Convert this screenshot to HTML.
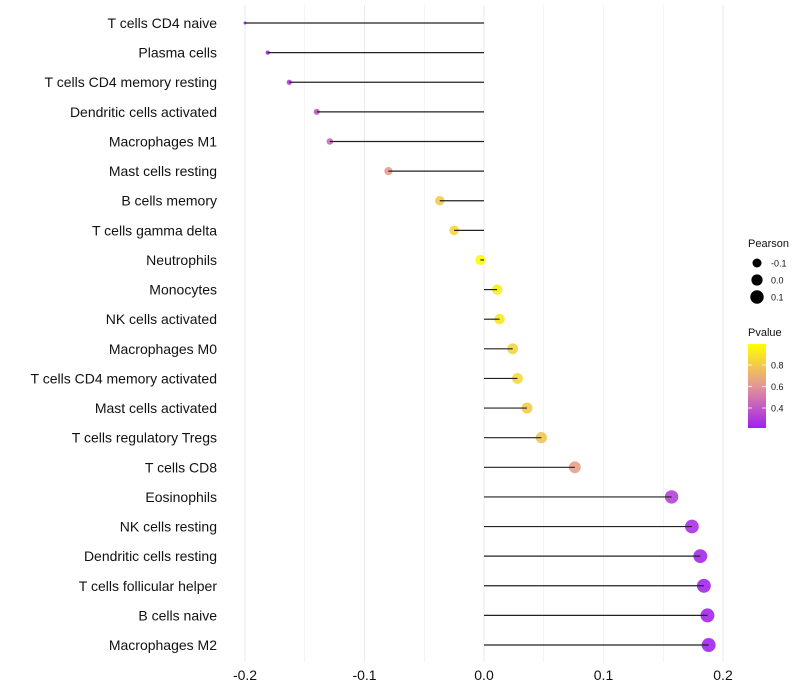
<!DOCTYPE html>
<html><head><meta charset="utf-8"><style>
body{margin:0;background:#fff;font-family:"Liberation Sans",sans-serif;}
svg{display:block}
</style></head><body>
<svg id="chart" width="800" height="700"></svg>
<script>
const categories=["T cells CD4 naive","Plasma cells","T cells CD4 memory resting","Dendritic cells activated","Macrophages M1","Mast cells resting","B cells memory","T cells gamma delta","Neutrophils","Monocytes","NK cells activated","Macrophages M0","T cells CD4 memory activated","Mast cells activated","T cells regulatory  Tregs ","T cells CD8","Eosinophils","NK cells resting","Dendritic cells resting","T cells follicular helper","B cells naive","Macrophages M2"];
const pearson=[-0.200,-0.181,-0.163,-0.140,-0.129,-0.080,-0.037,-0.025,-0.003,0.011,0.013,0.024,0.028,0.036,0.048,0.076,0.157,0.174,0.181,0.184,0.187,0.188];
const pvalue=[0.21,0.24,0.30,0.40,0.45,0.62,0.80,0.85,0.99,0.93,0.91,0.84,0.86,0.80,0.78,0.64,0.32,0.26,0.23,0.22,0.22,0.21];
const xTicks=[-0.2,-0.1,0.0,0.1,0.2];
const xTickLabels=["-0.2","-0.1","0.0","0.1","0.2"];
const sizeLegend=[-0.1,0.0,0.1];
const sizeLegendLabels=["-0.1","0.0","0.1"];
const pLegend=[0.8,0.6,0.4];

const NS="http://www.w3.org/2000/svg";
const svg=document.getElementById('chart');
function el(t,a,p){const e=document.createElementNS(NS,t);for(const k in a)e.setAttribute(k,a[k]);(p||svg).appendChild(e);return e;}
const X=v=>484+v*1195;
const Y=i=>23+i*29.62;
const R=v=>Math.sqrt(2.25+120*Math.max(0,v+0.2));
function lerp(a,b,t){return a.map((x,i)=>Math.round(x+(b[i]-x)*t));}
function col(p){const stops=[[0.2,[160,32,240]],[0.6,[228,150,150]],[1.0,[255,255,0]]];
 if(p<=0.2)return 'rgb(160,32,240)';
 for(let i=0;i<stops.length-1;i++){if(p<=stops[i+1][0]){const t=(p-stops[i][0])/(stops[i+1][0]-stops[i][0]);return 'rgb('+lerp(stops[i][1],stops[i+1][1],t).join(',')+')';}}
 return 'rgb(255,255,0)';}

for(let v=-0.2;v<=0.2001;v+=0.05){
 const g=el('line',{x1:X(v),x2:X(v),y1:5,y2:662,stroke:'#ebebeb','stroke-width':Math.abs((v*20)%2)<0.01?1:0.6});
 
 
}
xTicks.forEach((v,i)=>{
 const t=el('text',{x:X(v),y:680,'text-anchor':'middle','font-size':14,fill:'#111'});
 t.textContent=xTickLabels[i];
 
 
});
categories.forEach((c,i)=>{
 const t=el('text',{x:217,y:Y(i)+5,'text-anchor':'end','font-size':14,fill:'#111'});
 t.textContent=c;
 
 
 const pt=el('circle',{cx:X(pearson[i]),cy:Y(i),r:R(pearson[i]),fill:col(pvalue[i]),'fill-opacity':0.9});
 
 
 const ln=el('line',{x1:X(0),x2:X(pearson[i]),y1:Y(i),y2:Y(i),stroke:'#222','stroke-width':1.2});
 
 
});
let t=el('text',{x:748,y:247,'font-size':11,fill:'#111'});t.textContent='Pearson';


sizeLegend.forEach((v,i)=>{
 const cy=263+i*17;
 const c=el('circle',{cx:757,cy:cy,r:4.5+i*1.1,fill:'#000'});
 
 
 const l=el('text',{x:771,y:cy+3.5,'font-size':9,fill:'#111'});l.textContent=sizeLegendLabels[i];
 
 
});
t=el('text',{x:748,y:336,'font-size':11,fill:'#111'});t.textContent='Pvalue';


const defs=el('defs',{});
const gr=el('linearGradient',{id:'pg',x1:0,y1:1,x2:0,y2:0},defs);
[[0,'rgb(160,32,240)'],[0.5,'rgb(228,150,150)'],[1,'rgb(255,255,0)']].forEach(s=>el('stop',{offset:s[0],'stop-color':s[1]},gr));
const bar=el('rect',{x:748,y:344,width:18,height:84,fill:'url(#pg)'});


const PY=p=>365+(0.8-p)*107.5;
pLegend.forEach(p=>{
 el('line',{x1:748,x2:752,y1:PY(p),y2:PY(p),stroke:'#fff','stroke-width':0.8});
 el('line',{x1:762,x2:766,y1:PY(p),y2:PY(p),stroke:'#fff','stroke-width':0.8});
 const l=el('text',{x:771,y:PY(p)+3.5,'font-size':9,fill:'#111'});l.textContent=p.toFixed(1);
 
 
});
</script>
</body></html>
